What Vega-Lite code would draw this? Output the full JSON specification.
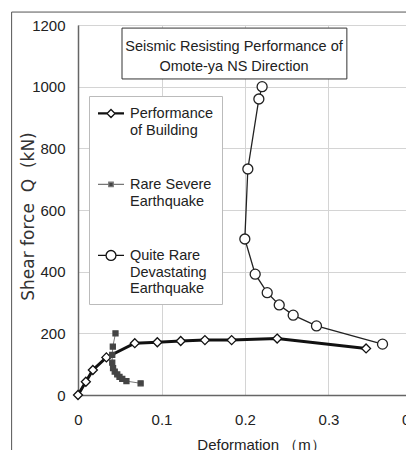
{
  "$schema": "https://vega.github.io/schema/vega-lite/v6.json",
  "width": 334,
  "height": 370,
  "autosize": {"type": "none"},
  "padding": {"left": 78, "top": 25, "right": 0, "bottom": 55},
  "background": "white",
  "config": {
    "font": "Liberation Sans",
    "view": {"stroke": "#999", "strokeWidth": 1},
    "axis": {
      "grid": true, "gridColor": "#d4d4d4", "gridWidth": 1, "domainColor": "#666", "domainWidth": 1.5,
      "ticks": false, "labelFont": "Liberation Sans", "labelFontSize": 15, "labelColor": "#222",
      "titleFont": "Liberation Sans", "titleFontSize": 15, "titleFontWeight": "normal", "titleColor": "#222"
    }
  },
  "resolve": {"scale": {"shape": "independent", "fill": "independent", "stroke": "independent"}},
  "title": {
    "text": ["Seismic Resisting Performance of", "Omote-ya NS Direction"],
    "anchor": "middle", "frame": "group", "orient": "top", "baseline": "top",
    "offset": 0, "dy": 63, "dx": -11, "fontSize": 14.5, "fontWeight": "normal",
    "font": "Liberation Sans", "color": "#222", "lineHeight": 20
  },
  "datasets": {
    "curves": [
      {"series": "Performance of Building", "i": 1, "d": 0, "q": 0},
      {"series": "Performance of Building", "i": 2, "d": 0.0094, "q": 43},
      {"series": "Performance of Building", "i": 3, "d": 0.0178, "q": 81},
      {"series": "Performance of Building", "i": 4, "d": 0.034, "q": 122},
      {"series": "Performance of Building", "i": 5, "d": 0.068, "q": 168},
      {"series": "Performance of Building", "i": 6, "d": 0.095, "q": 171},
      {"series": "Performance of Building", "i": 7, "d": 0.123, "q": 175},
      {"series": "Performance of Building", "i": 8, "d": 0.152, "q": 178},
      {"series": "Performance of Building", "i": 9, "d": 0.184, "q": 178},
      {"series": "Performance of Building", "i": 10, "d": 0.2385, "q": 183},
      {"series": "Performance of Building", "i": 11, "d": 0.345, "q": 151},
      {"series": "Rare Severe Earthquake", "i": 1, "d": 0.0449, "q": 200},
      {"series": "Rare Severe Earthquake", "i": 2, "d": 0.0417, "q": 157},
      {"series": "Rare Severe Earthquake", "i": 3, "d": 0.041, "q": 130},
      {"series": "Rare Severe Earthquake", "i": 4, "d": 0.041, "q": 105},
      {"series": "Rare Severe Earthquake", "i": 5, "d": 0.042, "q": 87},
      {"series": "Rare Severe Earthquake", "i": 6, "d": 0.044, "q": 76},
      {"series": "Rare Severe Earthquake", "i": 7, "d": 0.047, "q": 67},
      {"series": "Rare Severe Earthquake", "i": 8, "d": 0.0497, "q": 59},
      {"series": "Rare Severe Earthquake", "i": 9, "d": 0.053, "q": 52},
      {"series": "Rare Severe Earthquake", "i": 10, "d": 0.058, "q": 45},
      {"series": "Rare Severe Earthquake", "i": 11, "d": 0.075, "q": 38},
      {"series": "Quite Rare Devastating Earthquake", "i": 1, "d": 0.2205, "q": 1000},
      {"series": "Quite Rare Devastating Earthquake", "i": 2, "d": 0.2166, "q": 960},
      {"series": "Quite Rare Devastating Earthquake", "i": 3, "d": 0.2034, "q": 733},
      {"series": "Quite Rare Devastating Earthquake", "i": 4, "d": 0.1998, "q": 506},
      {"series": "Quite Rare Devastating Earthquake", "i": 5, "d": 0.2122, "q": 392},
      {"series": "Quite Rare Devastating Earthquake", "i": 6, "d": 0.2266, "q": 332},
      {"series": "Quite Rare Devastating Earthquake", "i": 7, "d": 0.241, "q": 292},
      {"series": "Quite Rare Devastating Earthquake", "i": 8, "d": 0.2577, "q": 259},
      {"series": "Quite Rare Devastating Earthquake", "i": 9, "d": 0.2856, "q": 224},
      {"series": "Quite Rare Devastating Earthquake", "i": 10, "d": 0.3647, "q": 165}
    ]
  },
  "layer": [
    {
      "data": {"values": [{}]},
      "mark": {"type": "rect", "fillOpacity": 0, "stroke": "#555", "strokeWidth": 1, "clip": false},
      "encoding": {
        "x": {"datum": -0.0795, "type": "quantitative", "scale": {"domain": [0, 0.4], "nice": false}},
        "x2": {"datum": 0.6},
        "y": {"datum": 1242, "type": "quantitative", "scale": {"domain": [0, 1200], "nice": false}},
        "y2": {"datum": -400}
      }
    },
    {
      "data": {"values": [{}]},
      "mark": {"type": "rect", "fill": "white", "stroke": "#333", "strokeWidth": 1},
      "encoding": {
        "x": {"datum": 0.0527, "type": "quantitative", "scale": {"domain": [0, 0.4], "nice": false}},
        "x2": {"datum": 0.322},
        "y": {"datum": 1190, "type": "quantitative", "scale": {"domain": [0, 1200], "nice": false}},
        "y2": {"datum": 1025}
      }
    },
    {
      "data": {"name": "curves"},
      "transform": [{"filter": "datum.series == 'Rare Severe Earthquake'"}],
      "mark": {"type": "line", "stroke": "#777", "strokeWidth": 1},
      "encoding": {
        "x": {"field": "d", "type": "quantitative", "scale": {"domain": [0, 0.4], "nice": false},
          "axis": {"values": [0, 0.1, 0.2, 0.3, 0.4], "format": "~g", "labelPadding": 17, "labelFlush": false, "title": "Deformation （m）", "titlePadding": 10, "titleX": 183}},
        "y": {"field": "q", "type": "quantitative", "scale": {"domain": [0, 1200], "nice": false},
          "axis": {"values": [0, 200, 400, 600, 800, 1000, 1200], "format": "d", "labelPadding": 13,
            "title": "Shear force\u00a0\u00a0Q\u00a0\u00a0(kN)", "titleFont": "DejaVu Sans", "titleFontSize": 17, "titleColor": "#333", "titlePadding": -6, "titleY": 191}},
        "order": {"field": "i"}
      }
    },
    {
      "data": {"name": "curves"},
      "transform": [{"filter": "datum.series == 'Quite Rare Devastating Earthquake'"}],
      "mark": {"type": "line", "stroke": "#222", "strokeWidth": 1.3},
      "encoding": {
        "x": {"field": "d", "type": "quantitative", "scale": {"domain": [0, 0.4], "nice": false}},
        "y": {"field": "q", "type": "quantitative", "scale": {"domain": [0, 1200], "nice": false}},
        "order": {"field": "i"}
      }
    },
    {
      "data": {"name": "curves"},
      "transform": [{"filter": "datum.series == 'Performance of Building'"}],
      "mark": {"type": "line", "stroke": "#111", "strokeWidth": 3},
      "encoding": {
        "x": {"field": "d", "type": "quantitative", "scale": {"domain": [0, 0.4], "nice": false}},
        "y": {"field": "q", "type": "quantitative", "scale": {"domain": [0, 1200], "nice": false}},
        "order": {"field": "i"}
      }
    },
    {
      "data": {"name": "curves"},
      "mark": {"type": "point", "filled": true, "opacity": 1, "strokeWidth": 1.3, "size": 100},
      "encoding": {
        "x": {"field": "d", "type": "quantitative", "scale": {"domain": [0, 0.4], "nice": false}},
        "y": {"field": "q", "type": "quantitative", "scale": {"domain": [0, 1200], "nice": false}},
        "shape": {"field": "series", "type": "nominal",
          "scale": {"domain": ["Performance of Building", "Rare Severe Earthquake", "Quite Rare Devastating Earthquake"],
            "range": ["M0,-0.9L0.9,0L0,0.9L-0.9,0Z", "M-0.5,-0.5L0.5,-0.5L0.5,0.5L-0.5,0.5Z", "circle"]},
          "legend": null},
        "fill": {"field": "series", "type": "nominal",
          "scale": {"domain": ["Performance of Building", "Rare Severe Earthquake", "Quite Rare Devastating Earthquake"], "range": ["white", "#444", "white"]},
          "legend": null},
        "stroke": {"field": "series", "type": "nominal",
          "scale": {"domain": ["Performance of Building", "Rare Severe Earthquake", "Quite Rare Devastating Earthquake"], "range": ["#111", "#444", "#222"]},
          "legend": null}
      }
    },
    {
      "data": {"name": "curves"},
      "mark": {"type": "point", "filled": true, "opacity": 0, "size": 1},
      "encoding": {
        "x": {"field": "d", "type": "quantitative", "scale": {"domain": [0, 0.4], "nice": false}},
        "y": {"field": "q", "type": "quantitative", "scale": {"domain": [0, 1200], "nice": false}},
        "fill": {"field": "series", "type": "nominal",
          "scale": {"domain": ["Performance of Building", "Rare Severe Earthquake", "Quite Rare Devastating Earthquake"], "range": ["white", "#444", "white"]}},
        "stroke": {"field": "series", "type": "nominal",
          "scale": {"domain": ["Performance of Building", "Rare Severe Earthquake", "Quite Rare Devastating Earthquake"], "range": ["#111", "#777", "#111"]}},
        "shape": {"field": "series", "type": "nominal",
          "scale": {"domain": ["Performance of Building", "Rare Severe Earthquake", "Quite Rare Devastating Earthquake"],
            "range": [
              "M-1,-0.39L-0.29,-0.39M-1,-0.31L-0.29,-0.31M0.29,-0.39L1,-0.39M0.29,-0.31L1,-0.31M0,-0.66L0.31,-0.35L0,-0.04L-0.31,-0.35Z",
              "M-1,-0.35L-0.17,-0.35M0.17,-0.35L1,-0.35M-0.17,-0.52L0.17,-0.52L0.17,-0.18L-0.17,-0.18Z",
              "M-1,-0.35L-0.38,-0.35M0.38,-0.35L1,-0.35M0.38,-0.35A0.38,0.38,0,1,1,-0.38,-0.35A0.38,0.38,0,1,1,0.38,-0.35Z"
            ]},
          "legend": {
            "title": null, "orient": "none", "legendX": 11, "legendY": 71,
            "strokeColor": "#bbb", "fillColor": "white", "padding": 8,
            "symbolSize": 676, "symbolStrokeWidth": 1.3, "symbolOpacity": 1,
            "labelOffset": 5, "rowPadding": 38,
            "labelFont": "Liberation Sans", "labelFontSize": 14.5, "labelColor": "#222", "labelLimit": 200,
            "labelBaseline": "alphabetic",
            "labelExpr": "datum.label == 'Performance of Building' ? ['Performance', 'of Building'] : datum.label == 'Rare Severe Earthquake' ? ['Rare Severe', 'Earthquake'] : ['Quite Rare', 'Devastating', 'Earthquake']"
          }}
      }
    }
  ]
}
